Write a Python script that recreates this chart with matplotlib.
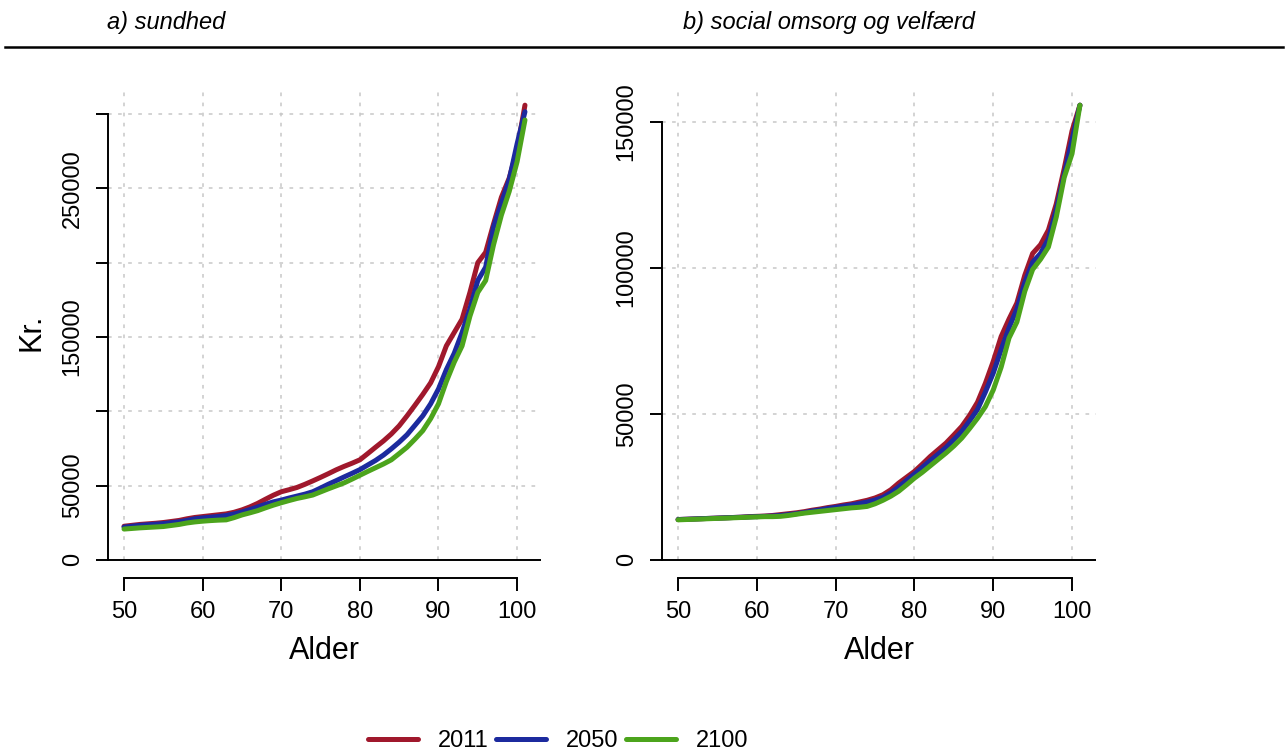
import matplotlib
matplotlib.use('Agg')
import matplotlib.pyplot as plt
from matplotlib.lines import Line2D

# ---------------- data ----------------
ages = list(range(50, 102))
years = ['2011', '2050', '2100']
colors = ['#A0182C', '#1C2A9E', '#4CA41C']

# a) sundhed (kr.)
sund_2011 = [22600, 23200, 23800, 24200, 24600, 25100, 25800, 26500, 27600, 28500, 29100,
             29700, 30300, 30900, 32000, 33600, 35600, 38000, 40800, 43500, 45800, 47200,
             48700, 50800, 53100, 55500, 58000, 60600, 62900, 65000, 67300, 71500, 75800,
             80000, 84700, 90200, 96900, 104000, 111300, 119100, 130000, 144000, 153000,
             162000, 180000, 200000, 207000, 226000, 244000, 257000, 276000, 306000]
sund_2050 = [22000, 22600, 23200, 23600, 24000, 24400, 25000, 25600, 26500, 27600, 28200,
             28700, 29200, 29800, 30900, 32200, 33800, 35600, 37400, 39000, 40200, 41600,
             42900, 44200, 45800, 48300, 50900, 53300, 55800, 58200, 60700, 63800, 66900,
             70500, 74700, 79200, 84200, 90500, 96900, 105000, 115000, 128000, 139000,
             153000, 169000, 188000, 197000, 224000, 240000, 256000, 280000, 301600]
sund_2100 = [20700, 21100, 21500, 21800, 22100, 22400, 23100, 23800, 24800, 25500, 26000,
             26400, 26700, 26900, 28400, 30200, 31600, 33100, 35000, 36800, 38400, 39900,
             41300, 42400, 43600, 45700, 47800, 49800, 51800, 54300, 56900, 59500, 62000,
             64500, 67300, 71500, 75800, 81200, 86900, 95000, 105000, 120000, 133000,
             144000, 164000, 180000, 188000, 212000, 232000, 248000, 268000, 296000]

# b) social omsorg og velfærd (kr.)
soc_2011 = [13800, 13900, 14000, 14100, 14200, 14300, 14400, 14500, 14600, 14800, 14900,
            15000, 15200, 15500, 15800, 16100, 16500, 17000, 17400, 17900, 18300, 18800,
            19200, 19800, 20400, 21200, 22300, 24000, 26300, 28300, 30300, 32800, 35400,
            37700, 40000, 42800, 45700, 49500, 54000, 60500, 68000, 76500, 82500, 88000,
            97500, 105000, 108000, 113000, 122000, 134000, 147000, 155800]
soc_2050 = [13800, 13900, 14000, 14100, 14200, 14300, 14400, 14500, 14600, 14700, 14800,
            14900, 15000, 15200, 15500, 15800, 16200, 16700, 17100, 17600, 18000, 18400,
            18800, 19300, 19800, 20500, 21400, 23000, 25000, 27200, 29400, 31700, 34000,
            36200, 38500, 41200, 44000, 47600, 51500, 57500, 64000, 72000, 79500, 86000,
            95000, 102000, 105000, 110000, 120000, 132000, 144000, 155800]
soc_2100 = [13700, 13800, 13900, 14000, 14100, 14200, 14300, 14400, 14500, 14600, 14700,
            14800, 14800, 14900, 15200, 15600, 16000, 16300, 16600, 16900, 17200, 17500,
            17800, 18000, 18300, 19200, 20400, 21800, 23500, 25700, 28000, 30000, 32200,
            34400, 36600, 39000, 41700, 45000, 48500, 52500, 58200, 66000, 76000, 81500,
            92000, 99500, 103000, 107200, 117500, 131000, 139200, 155800]

titles = ['a) sundhed', 'b) social omsorg og velfærd']
x_ticks = [50, 60, 70, 80, 90, 100]
y_ticks_a = [0, 50000, 100000, 150000, 200000, 250000, 300000]
y_labels_a = ['0', '50000', '', '150000', '', '250000', '']
y_ticks_b = [0, 50000, 100000, 150000]
y_labels_b = ['0', '50000', '100000', '150000']

# ---------------- figure ----------------
plt.rcParams['font.family'] = ['Liberation Sans', 'DejaVu Sans']
W, H = 1287, 751
fig = plt.figure(figsize=(W / 100, H / 100), dpi=100)


def px_axes(x0, x1, y0, y1):
    return fig.add_axes([x0 / W, 1 - y1 / H, (x1 - x0) / W, (y1 - y0) / H])


ax1 = px_axes(108, 541, 87, 578)
ax2 = px_axes(662, 1096, 87, 578)

grid_col = '#C8C8C8'
panels = [
    (ax1, [sund_2011, sund_2050, sund_2100], y_ticks_a, y_labels_a),
    (ax2, [soc_2011, soc_2050, soc_2100], y_ticks_b, y_labels_b),
]

handles = []
for ax, series, yt, yl in panels:
    ymax = max(max(v) for v in series)
    ylo, yhi = -0.04 * ymax, 1.04 * ymax
    xlo, xhi = 50 - 0.04 * 51, 101 + 0.04 * 51
    # grid
    ax.vlines(x_ticks, 0, yhi, colors=grid_col, linestyles=(0, (2.4, 4.2)), lw=1.1, zorder=1)
    for t in yt[1:]:
        ax.axhline(t, color=grid_col, ls=(0, (2.4, 4.2)), lw=1.1, zorder=1)
    ax.axhline(0, color='black', lw=1.4, zorder=1)
    hs = []
    for v, c, lab in zip(series, colors, years):
        h, = ax.plot(ages, v, color=c, lw=3.6, label=lab, solid_capstyle='round',
                     solid_joinstyle='round', zorder=3)
        hs.append(h)
    handles = hs if not handles else handles
    ax.set_xlim(xlo, xhi)
    ax.set_ylim(ylo, yhi)
    for s in ['top', 'right']:
        ax.spines[s].set_visible(False)
    ax.spines['left'].set_bounds(yt[0], yt[-1])
    ax.spines['bottom'].set_bounds(x_ticks[0], x_ticks[-1])
    ax.spines['left'].set_linewidth(1.4)
    ax.spines['bottom'].set_linewidth(1.4)
    ax.set_xticks(x_ticks)
    ax.set_xticklabels([str(t) for t in x_ticks])
    ax.set_yticks(yt)
    ax.set_yticklabels(yl, rotation=90, va='center')
    ax.tick_params(axis='both', direction='out', length=9, width=1.4, labelsize=17,
                   colors='black')
    ax.tick_params(axis='x', pad=7.5)
    ax.tick_params(axis='y', pad=8.5)
    ax.set_xlabel('Alder', fontsize=22)
    ax.xaxis.set_label_coords(0.5, (578 - 651) / 491)
    ax.xaxis.label.set_va('center')
    ax.patch.set_alpha(0)

ax1.set_ylabel('Kr.', fontsize=22)
ax1.yaxis.set_label_coords((31 - 108) / 433, 0.5)
ax1.yaxis.label.set_va('center')

fig.text(107 / W, 1 - 22 / H, titles[0], fontsize=17, style='italic', va='center', ha='left')
fig.text(683 / W, 1 - 22 / H, titles[1], fontsize=17, style='italic', va='center', ha='left')
fig.add_artist(Line2D([5 / W, 1283 / W], [1 - 46.5 / H] * 2, color='black', lw=1.8))

fig.legend(handles, years, loc='center', bbox_to_anchor=(558 / W, 1 - 741 / H), ncol=3,
           frameon=False, fontsize=17, handlelength=2.12, handletextpad=0.85,
           columnspacing=0.3, borderpad=0, borderaxespad=0)

fig.savefig('out.png', dpi=100)
